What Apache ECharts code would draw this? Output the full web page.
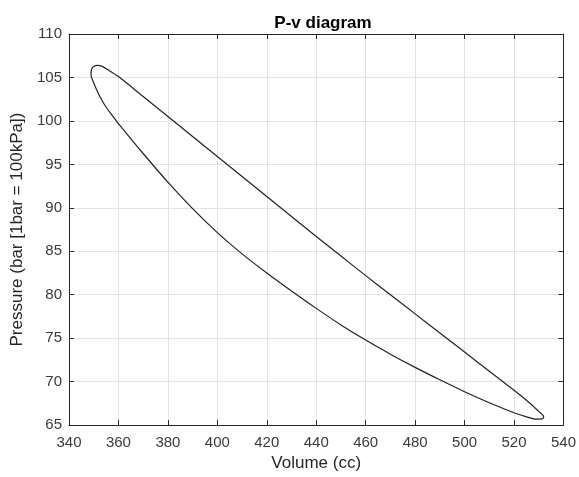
<!DOCTYPE html>
<html>
<head>
<meta charset="utf-8">
<script src="https://cdn.jsdelivr.net/npm/echarts@6/dist/echarts.min.js"></script>
<style>html,body{margin:0;padding:0;background:#fff;}#c{width:579px;height:477px;}</style>
</head>
<body>
<div id="c"></div>
<script>
// Upper branch (top-left tip -> bottom-right tip), then lower branch back
var volume = [
  348.9, 349.2, 350.1, 351.6, 353.2, 356.0, 360.0, 370.0, 380.0, 390.0, 400.0, 410.0,
  420.0, 430.0, 440.0, 450.0, 460.0, 470.0, 480.0, 490.0, 500.0, 510.0, 520.0, 525.0,
  528.4, 530.5, 531.8, 532.0, 531.2, 529.5, 527.5, 525.0, 520.0, 510.0, 500.0, 490.0,
  480.0, 470.0, 460.0, 450.0, 440.0, 430.0, 420.0, 410.0, 400.0, 390.0, 380.0, 370.0,
  360.0, 357.0, 354.5, 352.5, 351.0, 349.8, 349.1, 348.9
];
var pressure = [
  105.4, 106.0, 106.3, 106.4, 106.3, 105.85, 105.1, 102.8, 100.5, 98.2, 95.9, 93.6,
  91.3, 89.0, 86.7, 84.45, 82.2, 80.0, 77.8, 75.6, 73.4, 71.2, 69.0, 67.85,
  67.0, 66.45, 66.1, 65.9, 65.72, 65.68, 65.75, 65.95, 66.42, 67.57, 68.84, 70.21,
  71.64, 73.16, 74.78, 76.53, 78.43, 80.43, 82.5, 84.7, 87.15, 89.9, 92.95, 96.25,
  99.7, 100.8, 101.8, 102.8, 103.7, 104.5, 105.0, 105.4
];
var xTicks = [340, 360, 380, 400, 420, 440, 460, 480, 500, 520, 540];
var yTicks = [65, 70, 75, 80, 85, 90, 95, 100, 105, 110];
var titleText = 'P-v diagram';
var xLabel = 'Volume (cc)';
var yLabel = 'Pressure (bar [1bar = 100kPa])';

var pts = volume.map(function (v, i) { return [v, pressure[i]]; });
var font = 'Liberation Sans, Arial, Helvetica, sans-serif';
var axCol = '#262626';
var tickLblCol = '#3a3a3a';
var gridCol = '#e3e3e3';

function mkAxis(pos, showLabels, ticks) {
  return {
    type: 'value',
    position: pos,
    min: ticks[0],
    max: ticks[ticks.length - 1],
    interval: ticks[1] - ticks[0],
    axisLine: { show: true, onZero: false, lineStyle: { color: axCol, width: 1 } },
    axisTick: { show: true, inside: true, length: 5, lineStyle: { color: axCol } },
    axisLabel: { show: showLabels, color: tickLblCol, fontFamily: font, fontSize: 15, margin: 10 },
    splitLine: { show: showLabels, lineStyle: { color: gridCol, width: 1 } }
  };
}

var xa = mkAxis('bottom', true, xTicks);
xa.name = xLabel;
xa.nameLocation = 'middle';
xa.nameGap = 26;
xa.nameTextStyle = { color: axCol, fontFamily: font, fontSize: 17 };
var xTop = mkAxis('top', false, xTicks);

var ya = mkAxis('left', true, yTicks);
ya.name = yLabel;
ya.nameLocation = 'middle';
ya.nameGap = 39;
ya.nameTextStyle = { color: axCol, fontFamily: font, fontSize: 17 };
ya.axisLabel.margin = 7;
var yRight = mkAxis('right', false, yTicks);

var chart = echarts.init(document.getElementById('c'), null, { renderer: 'canvas' });
chart.setOption({
  backgroundColor: '#ffffff',
  animation: false,
  title: {
    text: titleText,
    left: 318, top: 10, textAlign: 'center',
    textStyle: { fontFamily: font, fontSize: 17, fontWeight: 'bold', color: '#000' }
  },
  grid: { left: 69, right: 11, top: 34, bottom: 49, containLabel: false },
  xAxis: [xa, xTop],
  yAxis: [ya, yRight],
  series: [{
    type: 'line',
    data: pts,
    xAxisIndex: 0,
    yAxisIndex: 0,
    showSymbol: false,
    smooth: 0.3,
    lineStyle: { color: '#222222', width: 1.2 }
  }]
});
</script>
</body>
</html>
